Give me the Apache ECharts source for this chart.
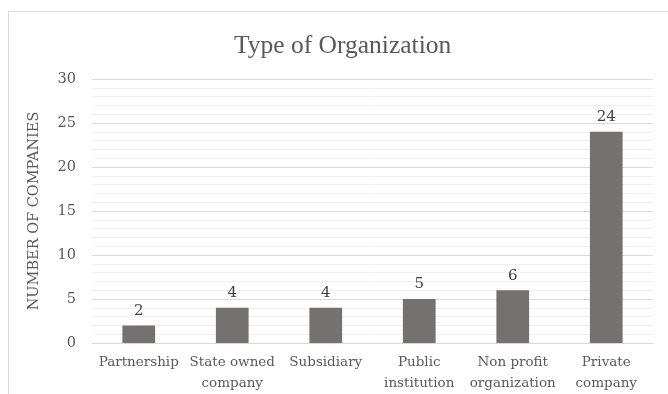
<!DOCTYPE html>
<html><head><meta charset="utf-8">
<script src="https://cdn.jsdelivr.net/npm/echarts@6/dist/echarts.min.js"></script>
<style>html,body{margin:0;padding:0;background:#fff}#c{width:668px;height:394px}</style>
</head><body><div id="c"></div>
<script>
const categories = ['Partnership', 'State owned\ncompany', 'Subsidiary', 'Public\ninstitution', 'Non profit\norganization', 'Private\ncompany'];
const values = [2, 4, 4, 5, 6, 24];
const yTicks = [0, 5, 10, 15, 20, 25, 30];

const chart = echarts.init(document.getElementById('c'));
chart.setOption({
  animation: false,
  backgroundColor: '#fff',
  graphic: [{
    type: 'rect', shape: {x: 8.5, y: 11.5, width: 700, height: 420},
    style: {fill: 'none', stroke: '#d9d9d9', lineWidth: 1}, silent: true, z: -1
  }],
  title: {
    text: 'Type of Organization', left: 229, top: 28,
    textStyle: {fontFamily: 'Liberation Serif', fontSize: 25.5, fontWeight: 'normal', color: '#595959'}
  },
  grid: {left: 92, right: 15, top: 79, bottom: 51},
  xAxis: {
    type: 'category', data: categories,
    axisLine: {lineStyle: {color: '#d9d9d9'}},
    axisTick: {show: false},
    axisLabel: {fontFamily: 'DejaVu Serif', fontSize: 13.5, color: '#595959', margin: 9, lineHeight: 21, interval: 0}
  },
  yAxis: {
    type: 'value', min: yTicks[0], max: yTicks[yTicks.length - 1], interval: 5,
    name: 'NUMBER OF COMPANIES', nameLocation: 'middle', nameGap: 50, nameRotate: 90,
    nameTextStyle: {fontFamily: 'DejaVu Serif', fontSize: 14.5, color: '#595959'},
    axisLine: {show: false}, axisTick: {show: false},
    axisLabel: {fontFamily: 'DejaVu Serif', fontSize: 14.5, color: '#595959', margin: 16},
    splitLine: {lineStyle: {color: '#d9d9d9'}},
    minorTick: {show: false, splitNumber: 5},
    minorSplitLine: {show: true, lineStyle: {color: '#f0f0f0'}}
  },
  series: [{
    type: 'bar', data: values, barWidth: '35%',
    itemStyle: {color: '#767171'},
    label: {show: true, position: 'top', distance: 7, fontFamily: 'DejaVu Serif', fontSize: 15, color: '#404040'}
  }]
});
</script></body></html>
